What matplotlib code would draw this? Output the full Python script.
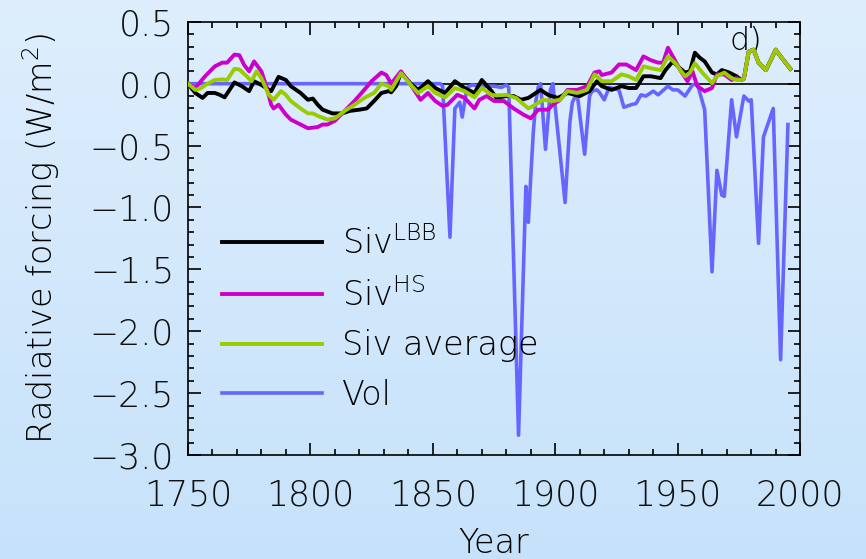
import numpy as np
import matplotlib
matplotlib.use("Agg")
import matplotlib.pyplot as plt
from matplotlib.ticker import MultipleLocator

plt.rcParams['font.family'] = ['DejaVu Sans']
plt.rcParams['mathtext.fontset'] = 'custom'
plt.rcParams['mathtext.rm'] = 'DejaVu Sans:weight=200'
plt.rcParams['mathtext.it'] = 'DejaVu Sans:weight=200'
plt.rcParams['mathtext.default'] = 'regular'
W = 200  # extra light weight, close to the thin font of the original

# volcanic forcing (W/m2)
vol_years = [1750, 1853, 1854, 1857, 1859, 1861, 1862, 1864, 1866, 1870, 1875, 1878, 1880, 1881,
             1885, 1888, 1889, 1890, 1891, 1892, 1893, 1894, 1896, 1898, 1899, 1904, 1906, 1907,
             1908, 1909, 1912, 1914, 1915, 1917, 1918, 1920, 1922, 1926, 1928, 1931, 1933, 1935,
             1937, 1940, 1942, 1946, 1948, 1950, 1953, 1956, 1958, 1961, 1964, 1966, 1968, 1969,
             1972, 1974, 1977, 1979, 1980, 1983, 1985, 1989, 1992, 1995]
vol_vals = [0.0, 0.0, -0.02, -1.24, -0.2, -0.15, -0.27, -0.03, -0.01, -0.02, -0.02, -0.03, -0.01, -0.03,
            -2.84, -0.83, -1.12, -0.75, -0.4, -0.15, -0.03, 0.0, -0.53, -0.05, 0.0, -0.96, -0.3, -0.15,
            -0.11, -0.09, -0.57, -0.1, -0.06, -0.05, -0.07, -0.13, -0.03, -0.05, -0.19, -0.17, -0.16, -0.09,
            -0.1, -0.06, -0.09, -0.02, -0.05, -0.05, -0.1, -0.01, 0.0, -0.21, -1.52, -0.7, -0.9, -0.91,
            -0.13, -0.43, -0.1, -0.14, -0.13, -1.29, -0.43, -0.2, -2.23, -0.33]

# the three Siv curves coincide after 1977
tail_years = [1979, 1981, 1983, 1986, 1988, 1990, 1992, 1996]
tail_vals = [0.26, 0.275, 0.17, 0.11, 0.19, 0.275, 0.22, 0.12]

lbb_years = [1750, 1753, 1756, 1758, 1761, 1763, 1765, 1767, 1769, 1772, 1775, 1777, 1780, 1784,
             1787, 1790, 1792, 1796, 1799, 1801, 1803, 1805, 1809, 1813, 1816, 1820, 1823, 1826,
             1829, 1832, 1833, 1835, 1837, 1841, 1844, 1848, 1851, 1855, 1859, 1863, 1867, 1870,
             1874, 1876, 1880, 1883, 1886, 1889, 1894, 1897, 1901, 1905, 1910, 1914, 1917, 1919,
             1923, 1927, 1930, 1933, 1936, 1939, 1943, 1945, 1948, 1950, 1953, 1955, 1957, 1959,
             1961, 1964, 1966, 1968, 1971, 1974, 1976, 1977] + tail_years
lbb_vals = [0.0, -0.075, -0.115, -0.075, -0.075, -0.09, -0.11, -0.05, 0.01, -0.02, -0.06, 0.02, -0.01, -0.06,
            0.055, 0.03, -0.02, -0.075, -0.13, -0.12, -0.17, -0.21, -0.24, -0.24, -0.22, -0.21, -0.2, -0.14,
            -0.075, -0.06, -0.07, -0.02, 0.09, 0.0, -0.05, 0.02, -0.035, -0.075, 0.02, -0.035, -0.075, 0.03,
            -0.06, -0.115, -0.1, -0.1, -0.13, -0.115, -0.05, -0.09, -0.115, -0.075, -0.1, -0.06, 0.02, -0.02,
            -0.05, -0.02, -0.035, -0.035, 0.06, 0.06, 0.045, 0.11, 0.18, 0.14, 0.09, 0.1, 0.25, 0.21,
            0.18, 0.09, 0.075, 0.11, 0.09, 0.06, 0.03, 0.04] + tail_vals

hs_years = [1750, 1753, 1757, 1761, 1764, 1766, 1769, 1771, 1773, 1775, 1777, 1780, 1782, 1784,
            1785, 1787, 1790, 1792, 1796, 1799, 1803, 1805, 1807, 1810, 1814, 1818, 1822, 1825,
            1829, 1831, 1833, 1837, 1841, 1845, 1848, 1851, 1854, 1856, 1860, 1863, 1867, 1869,
            1872, 1875, 1879, 1883, 1887, 1890, 1893, 1897, 1899, 1902, 1905, 1909, 1913, 1916,
            1918, 1919, 1923, 1926, 1929, 1933, 1936, 1939, 1942, 1944, 1946, 1948, 1951, 1954,
            1956, 1958, 1961, 1964, 1966, 1969, 1972, 1974, 1976, 1977] + tail_years
hs_vals = [0.0, -0.035, 0.06, 0.14, 0.17, 0.17, 0.235, 0.23, 0.15, 0.1, 0.18, 0.1, -0.02, -0.17,
           -0.2, -0.17, -0.25, -0.29, -0.33, -0.36, -0.35, -0.33, -0.33, -0.3, -0.22, -0.14, -0.05, 0.02,
           0.09, 0.07, 0.0, 0.1, -0.01, -0.13, -0.075, -0.14, -0.18, -0.17, -0.09, -0.115, -0.2, -0.13,
           -0.1, -0.14, -0.14, -0.2, -0.25, -0.28, -0.21, -0.21, -0.17, -0.13, -0.05, -0.05, -0.02, 0.09,
           0.1, 0.07, 0.09, 0.155, 0.155, 0.11, 0.22, 0.19, 0.17, 0.17, 0.29, 0.22, 0.11, 0.02,
           0.1, -0.02, -0.06, -0.035, 0.075, 0.075, 0.03, 0.045, 0.03, 0.04] + tail_vals

avg_years = [1750, 1753, 1755, 1758, 1761, 1764, 1766, 1769, 1771, 1774, 1776, 1778, 1780, 1783,
             1785, 1788, 1790, 1792, 1796, 1799, 1801, 1803, 1807, 1810, 1814, 1818, 1822, 1826,
             1829, 1832, 1833, 1837, 1841, 1844, 1848, 1851, 1855, 1859, 1863, 1867, 1870, 1874,
             1876, 1880, 1884, 1889, 1891, 1895, 1899, 1902, 1905, 1909, 1913, 1916, 1917, 1919,
             1923, 1927, 1930, 1933, 1936, 1939, 1943, 1946, 1949, 1953, 1955, 1957, 1960, 1964,
             1966, 1969, 1972, 1974, 1976, 1977] + tail_years
avg_vals = [0.0, -0.05, -0.04, 0.0, 0.03, 0.035, 0.03, 0.12, 0.115, 0.06, 0.02, 0.1, 0.045, -0.09,
            -0.13, -0.06, -0.09, -0.14, -0.2, -0.24, -0.24, -0.26, -0.29, -0.28, -0.22, -0.17, -0.115, -0.075,
            0.0, -0.02, -0.05, 0.085, -0.01, -0.075, -0.02, -0.075, -0.11, -0.035, -0.06, -0.11, -0.035, -0.09,
            -0.095, -0.09, -0.115, -0.2, -0.18, -0.13, -0.14, -0.13, -0.06, -0.075, -0.05, 0.075, 0.06, 0.02,
            0.02, 0.075, 0.06, 0.03, 0.14, 0.125, 0.11, 0.22, 0.165, 0.06, 0.09, 0.165, 0.09, 0.005,
            0.06, 0.09, 0.045, 0.03, 0.03, 0.04] + tail_vals

x_ticks = [1750, 1800, 1850, 1900, 1950, 2000]
y_ticks = [-3.0, -2.5, -2.0, -1.5, -1.0, -0.5, 0.0, 0.5]
y_ticklabels = ['\u22123.0', '\u22122.5', '\u22122.0', '\u22121.5', '\u22121.0', '\u22120.5', '0.0', '0.5']

fig = plt.figure(figsize=(8.66, 5.59), dpi=100)

# light blue gradient background
bg = fig.add_axes([0, 0, 1, 1], zorder=-10)
top = np.array([222, 238, 253]) / 255
bot = np.array([198, 226, 250]) / 255
t = np.linspace(0, 1, 256)[:, None]
grad = (top * (1 - t) + bot * t)[:, None, :]
bg.imshow(grad, aspect='auto', extent=[0, 1, 0, 1])
bg.axis('off')

ax = fig.add_axes([0.217, 0.186, 0.707, 0.775])
ax.set_facecolor('none')

ax.axhline(0, color='black', lw=1.2, zorder=1)
l_vol, = ax.plot(vol_years, vol_vals, color='#6666ff', lw=2.6, zorder=2)
l_lbb, = ax.plot(lbb_years, lbb_vals, color='black', lw=2.8, zorder=3)
l_hs, = ax.plot(hs_years, hs_vals, color='#cc00cc', lw=2.8, zorder=3)
l_avg, = ax.plot(avg_years, avg_vals, color='#99cc00', lw=2.8, zorder=4)

ax.set_xlim(1750, 2000)
ax.set_ylim(-3.0, 0.5)
ax.set_xticks(x_ticks, [str(v) for v in x_ticks], fontsize=25, fontweight=W, color='#111111')
ax.set_yticks(y_ticks, y_ticklabels, fontsize=25, fontweight=W, color='#111111')
ax.xaxis.set_minor_locator(MultipleLocator(10))
ax.yaxis.set_minor_locator(MultipleLocator(0.1))
ax.tick_params(which='both', direction='in', top=True, right=True, width=1.2)
ax.tick_params(which='major', length=9)
ax.tick_params(which='minor', length=4.5)
ax.tick_params(axis='x', pad=17)
ax.tick_params(axis='y', pad=10)
for s in ax.spines.values():
    s.set_linewidth(1.2)

ax.set_xlabel('Year', fontsize=24, fontweight=W, labelpad=10)
ax.set_ylabel('Radiative forcing (W/m$^2$)', fontsize=24, fontweight=W, labelpad=20)

ax.text(1978, 0.35, 'd)', fontsize=23, fontweight=W, ha='center', va='center')

leg = ax.legend([l_lbb, l_hs, l_avg, l_vol],
                ['Siv$^{LBB}$', 'Siv$^{HS}$', 'Siv average', 'Vol'],
                loc='upper left', bbox_to_anchor=(0.056, 0.528), frameon=False,
                prop={'size': 24, 'weight': W},
                handlelength=3.0, handletextpad=0.6, labelspacing=0.5, borderpad=0, borderaxespad=0)

fig.savefig('out.png', dpi=100)
